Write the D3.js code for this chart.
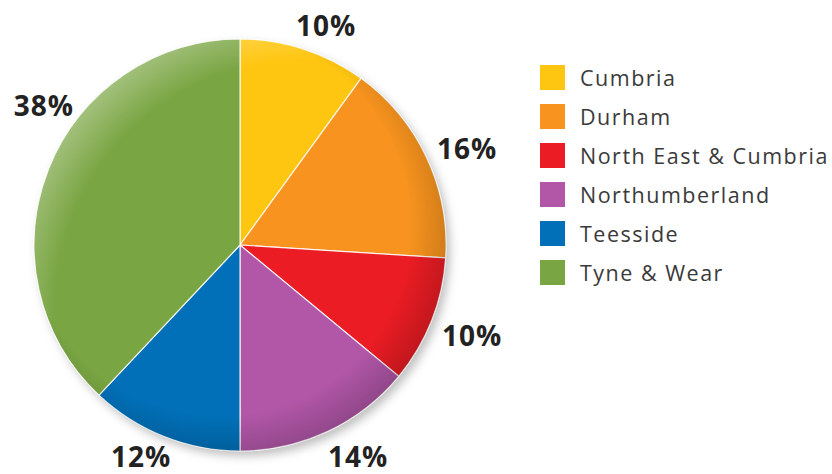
<!DOCTYPE html>
<html>
<head>
<meta charset="utf-8">
<script src="https://cdn.jsdelivr.net/npm/d3@7"></script>
<style>
  html, body { margin: 0; padding: 0; background: #fff; }
  svg { display: block; }
</style>
</head>
<body>
<svg id="chart" width="832" height="474"></svg>
<script>
// ---- data ----
const categories = ["Cumbria", "Durham", "North East & Cumbria", "Northumberland", "Teesside", "Tyne & Wear"];
const shares = [10, 16, 10, 14, 12, 38];
const labels = ["10%", "16%", "10%", "14%", "12%", "38%"];
const colors = ["#FFC611", "#F7931E", "#EC1C24", "#B257A8", "#0170B8", "#79A542"];

// ---- layout ----
const W = 832, H = 474;
const cx = 240, cy = 245, R = 206;
const labelRadius = [236, 247, 249, 242, 233, 241];   // px from centre, to mimic reference placement
const labelAngleNudge = [3.4, 2.1, -0.4, -4, 3.5, 13.9]; // degrees off the slice middle

const svg = d3.select("#chart");
const defs = svg.append("defs");

const shadow = defs.append("filter").attr("id", "shadow")
  .attr("x", "-20%").attr("y", "-20%").attr("width", "140%").attr("height", "140%");
shadow.append("feDropShadow").attr("dx", 4).attr("dy", 5).attr("stdDeviation", 5)
  .attr("flood-color", "#000").attr("flood-opacity", 0.25);

const shade = defs.append("radialGradient").attr("id", "shade")
  .attr("cx", "45%").attr("cy", "45%").attr("r", "58%");
shade.append("stop").attr("offset", "0%").attr("stop-color", "#000").attr("stop-opacity", 0);
shade.append("stop").attr("offset", "80%").attr("stop-color", "#000").attr("stop-opacity", 0);
shade.append("stop").attr("offset", "100%").attr("stop-color", "#000").attr("stop-opacity", 0.2);

const hl = defs.append("radialGradient").attr("id", "hl")
  .attr("cx", "66%").attr("cy", "66%").attr("r", "76%");
hl.append("stop").attr("offset", "0%").attr("stop-color", "#fff").attr("stop-opacity", 0);
hl.append("stop").attr("offset", "80%").attr("stop-color", "#fff").attr("stop-opacity", 0);
hl.append("stop").attr("offset", "100%").attr("stop-color", "#fff").attr("stop-opacity", 0.4);

const pie = d3.pie().sort(null).value(d => d)
  .startAngle(0).endAngle(2 * Math.PI);
const arcs = pie(shares);
const arc = d3.arc().innerRadius(0).outerRadius(R);

const g = svg.append("g").attr("transform", `translate(${cx},${cy})`);

g.append("circle").attr("r", R).attr("fill", "#fff").attr("filter", "url(#shadow)");

g.selectAll("path.slice").data(arcs).join("path")
  .attr("class", "slice")
  .attr("d", arc)
  .attr("fill", (d, i) => colors[i])
  .attr("stroke", "#fff").attr("stroke-opacity", 0.85).attr("stroke-width", 1.2);

g.append("circle").attr("r", R).attr("fill", "url(#shade)").attr("pointer-events", "none");
g.append("circle").attr("r", R).attr("fill", "url(#hl)").attr("pointer-events", "none");

// percentage labels
const labelAngle = (d, i) => (d.startAngle + d.endAngle) / 2 + labelAngleNudge[i] * Math.PI / 180;
g.selectAll("text.pct").data(arcs).join("text")
  .attr("class", "pct")
  .attr("x", (d, i) => labelRadius[i] * Math.sin(labelAngle(d, i)))
  .attr("y", (d, i) => -labelRadius[i] * Math.cos(labelAngle(d, i)))
  .attr("text-anchor", "middle")
  .attr("dominant-baseline", "central")
  .attr("font-family", "'Open Sans', sans-serif")
  .attr("font-weight", 700)
  .attr("font-size", 28)
  .attr("letter-spacing", 1)
  .attr("fill", "#222")
  .text((d, i) => labels[i]);

// legend
const legendY = d3.scaleBand().domain(categories).range([58, 292]).paddingInner(0);
const lg = svg.append("g").attr("class", "legend");
const rows = lg.selectAll("g").data(categories).join("g")
  .attr("transform", d => `translate(540,${legendY(d) + legendY.bandwidth() / 2})`);
rows.append("rect").attr("x", 0).attr("y", -12.5).attr("width", 25).attr("height", 25)
  .attr("fill", (d, i) => colors[i]);
rows.append("text").attr("x", 40).attr("y", 0)
  .attr("dominant-baseline", "central")
  .attr("font-family", "'Open Sans', sans-serif")
  .attr("font-size", 21.5)
  .attr("letter-spacing", 1.5)
  .attr("fill", "#3a3a3a")
  .text(d => d);
</script>
</body>
</html>
